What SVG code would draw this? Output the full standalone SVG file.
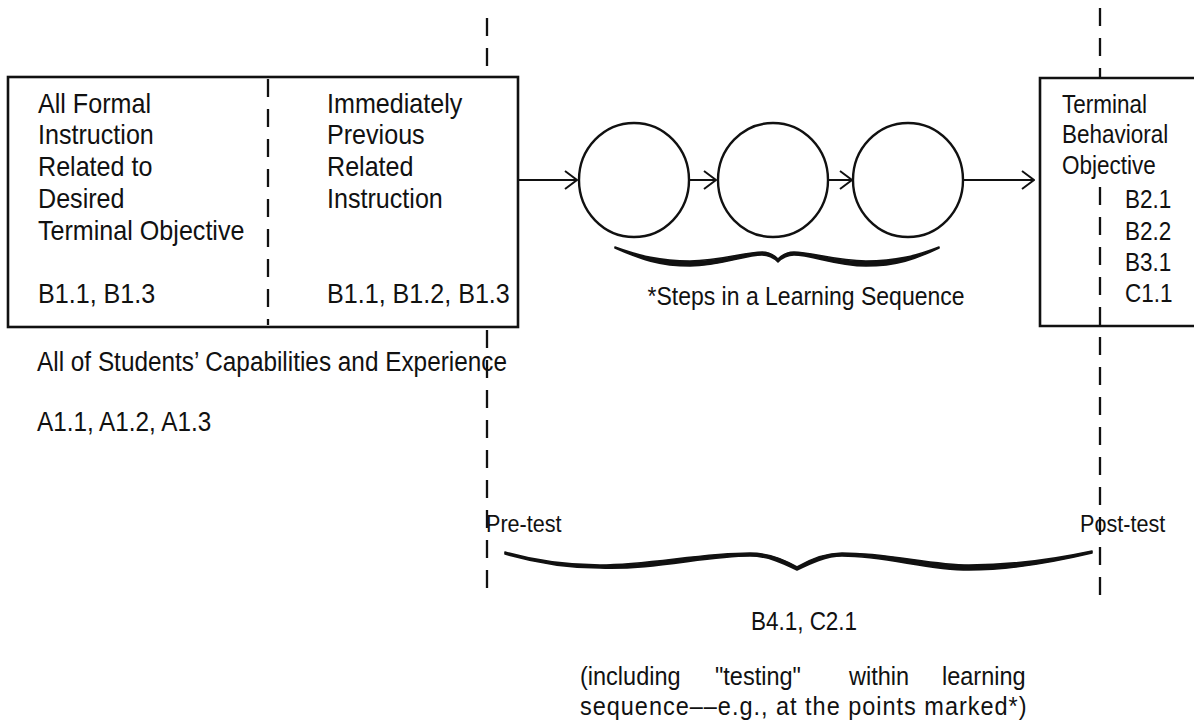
<svg xmlns="http://www.w3.org/2000/svg" width="1194" height="722" viewBox="0 0 1194 722">
<style>
  text { font-family: "Liberation Sans", Arial, sans-serif; fill: #111; }
  .box { fill: none; stroke: #111; stroke-width: 2.6; }
  .dash { fill: none; stroke: #111; stroke-width: 2.3; stroke-dasharray: 18 12; }
  .circ { fill: none; stroke: #111; stroke-width: 2.4; }
  .arr { fill: none; stroke: #111; stroke-width: 2; marker-end: url(#head); }
  .brace { fill: #111; stroke: #111; stroke-width: 1.6; stroke-linejoin: round; }
  .t27 { font-size: 27px; }
  .t25 { font-size: 25px; }
  .t24 { font-size: 24px; }
</style>
<defs>
  <marker id="head" markerUnits="userSpaceOnUse" markerWidth="14" markerHeight="20" viewBox="0 0 14 20" refX="13" refY="10" orient="auto">
    <path d="M1,1 L13,10 L1,19" fill="none" stroke="#111" stroke-width="2"/>
  </marker>
</defs>
<rect width="1194" height="722" fill="#fff"/>

<g id="guides">
  <line class="dash" x1="487" y1="18" x2="487" y2="77"/>
  <line class="dash" x1="487" y1="330" x2="487" y2="597"/>
  <line class="dash" x1="1100" y1="8" x2="1100" y2="78"/>
  <line class="dash" x1="1100" y1="187" x2="1100" y2="597"/>
</g>

<g id="prior-instruction">
  <rect class="box" x="8" y="77" width="510" height="250"/>
  <line class="dash" x1="268" y1="79" x2="268" y2="325" stroke-dasharray="22 10"/>
  <text class="t27" transform="translate(38 113) scale(0.93 1)">All Formal</text>
  <text class="t27" transform="translate(38 144) scale(0.93 1)">Instruction</text>
  <text class="t27" transform="translate(38 176) scale(0.93 1)">Related to</text>
  <text class="t27" transform="translate(38 208) scale(0.93 1)">Desired</text>
  <text class="t27" transform="translate(38 240) scale(0.93 1)">Terminal Objective</text>
  <text class="t27" transform="translate(38 303) scale(0.93 1)">B1.1, B1.3</text>
  <text class="t27" transform="translate(327 113) scale(0.93 1)">Immediately</text>
  <text class="t27" transform="translate(327 144) scale(0.93 1)">Previous</text>
  <text class="t27" transform="translate(327 176) scale(0.93 1)">Related</text>
  <text class="t27" transform="translate(327 208) scale(0.93 1)">Instruction</text>
  <text class="t27" transform="translate(327 303) scale(0.93 1)">B1.1, B1.2, B1.3</text>
</g>

<g id="step1"><ellipse class="circ" cx="634" cy="180" rx="55" ry="57"/></g>
<g id="step2"><ellipse class="circ" cx="773" cy="180" rx="55" ry="57"/></g>
<g id="step3"><ellipse class="circ" cx="908" cy="180" rx="55" ry="57"/></g>

<g id="terminal-objective">
  <path class="box" d="M1197,78 H1040 V326 H1197"/>
  <text class="t25" transform="translate(1062 113) scale(0.9 1)">Terminal</text>
  <text class="t25" transform="translate(1062 143) scale(0.9 1)">Behavioral</text>
  <text class="t25" transform="translate(1062 174) scale(0.9 1)">Objective</text>
  <text class="t25" transform="translate(1125 208) scale(0.9 1)">B2.1</text>
  <text class="t25" transform="translate(1125 240) scale(0.9 1)">B2.2</text>
  <text class="t25" transform="translate(1125 271) scale(0.9 1)">B3.1</text>
  <text class="t25" transform="translate(1125 302) scale(0.9 1)">C1.1</text>
</g>

<g id="connectors">
  <line class="arr" x1="518" y1="180" x2="577" y2="180"/>
  <line class="arr" x1="690" y1="180" x2="716" y2="180"/>
  <line class="arr" x1="829" y1="180" x2="852" y2="180"/>
  <line class="arr" x1="964" y1="180" x2="1034" y2="180"/>
</g>

<g id="steps-brace">
  <path class="brace" d="M615,247 C640,256 660,261 690,261 C720,261 745,252 762,252 C770,252 774,255 778,259 C782,255 786,252 794,252 C811,252 836,261 866,261 C896,261 916,256 939,247 L939,248 C916,259 896,266 866,266 C836,266 812,255 794,255 C787,255 782,258 778,262 C774,258 769,255 762,255 C745,255 720,266 690,266 C660,266 640,259 615,248 Z"/>
  <text class="t25" transform="translate(806 305) scale(0.92 1)" text-anchor="middle">*Steps in a Learning Sequence</text>
</g>

<g id="capabilities">
  <text class="t27" x="37" y="371" textLength="470" lengthAdjust="spacingAndGlyphs">All of Students’ Capabilities and Experience</text>
  <text class="t27" transform="translate(37 431) scale(0.9 1)">A1.1, A1.2, A1.3</text>
</g>

<g id="tests">
  <text class="t24" transform="translate(486 532) scale(0.9 1)">Pre-test</text>
  <text class="t24" transform="translate(1080 532) scale(0.9 1)">Post-test</text>
  <path class="brace" d="M505,552 C540,562 570,565 600,565 C650,565 700,553 750,553 C770,553 785,560 797,567 C809,560 824,553 842,553 C890,553 930,565 969,565 C1010,565 1050,560 1092,551 L1092,553 C1050,563 1010,570 969,570 C925,570 888,556 842,556 C826,556 811,563 797,570 C783,563 768,556 750,556 C705,556 655,570 600,568 C570,568 540,564 505,554 Z"/>
  <text class="t25" transform="translate(804 630) scale(0.9 1)" text-anchor="middle">B4.1, C2.1</text>
  <text class="t25" transform="translate(580 685) scale(0.94 1)">(including</text>
  <text class="t25" transform="translate(715 685) scale(0.94 1)">"testing"</text>
  <text class="t25" transform="translate(849 685) scale(0.94 1)">within</text>
  <text class="t25" transform="translate(942 685) scale(0.94 1)">learning</text>
  <text class="t25" transform="translate(580 715) scale(0.94 1)" textLength="475" lengthAdjust="spacing">sequence––e.g., at the points marked*)</text>
</g>
</svg>
